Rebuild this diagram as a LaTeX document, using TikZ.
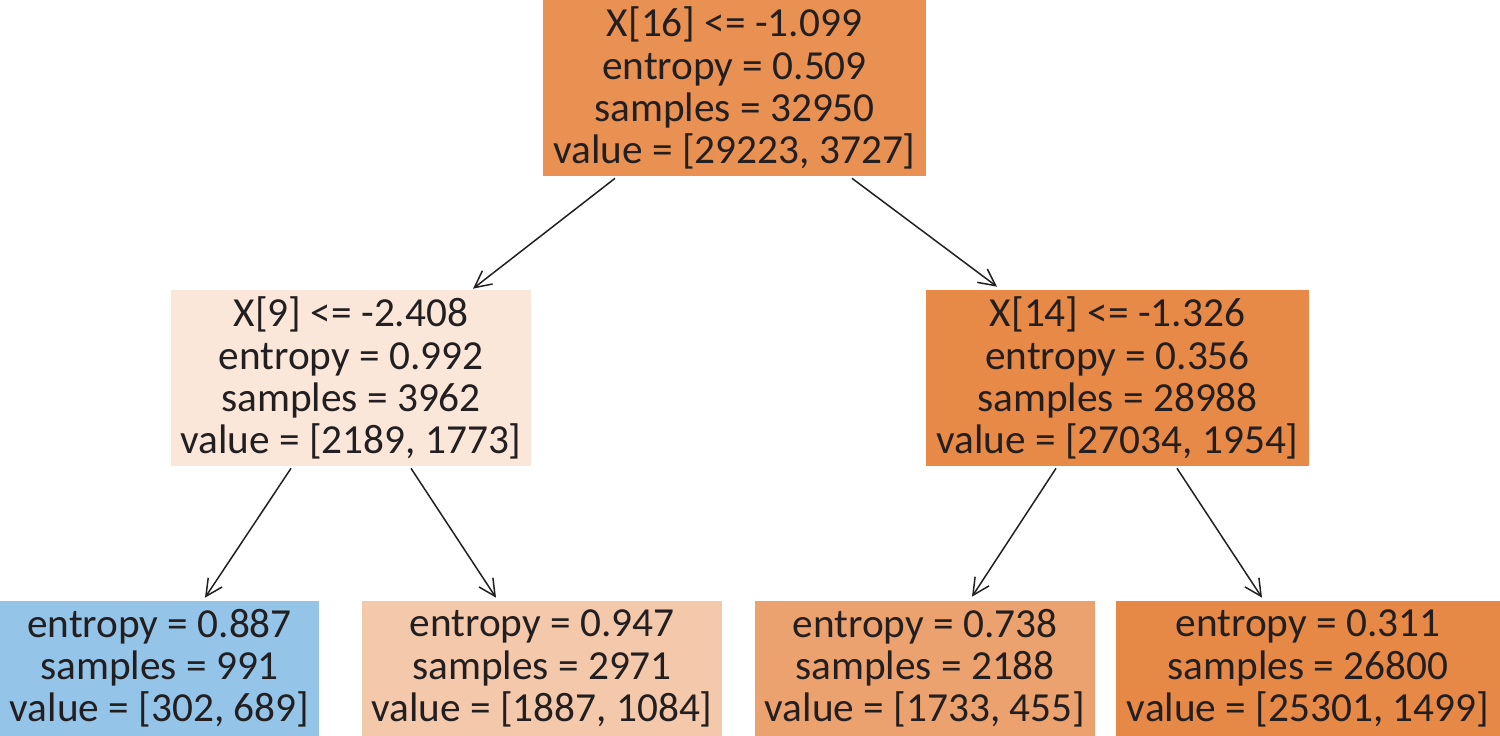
\documentclass[tikz,border=0pt]{standalone}
\usepackage{fontspec}
\setmainfont{Carlito}
\usetikzlibrary{arrows.meta,calc}
\definecolor{cRoot}{RGB}{232,145,82}
\definecolor{cML}{RGB}{250,231,217}
\definecolor{cMR}{RGB}{231,138,71}
\definecolor{cLA}{RGB}{148,196,232}
\definecolor{cLB}{RGB}{244,201,171}
\definecolor{cLC}{RGB}{235,162,110}
\definecolor{cLD}{RGB}{230,136,70}
\definecolor{txt}{RGB}{35,31,32}
\tikzset{
  treebox/.style={draw=none, inner sep=0pt, align=center, text=txt,
    font=\fontsize{23.5}{24}\selectfont, minimum height=3.52cm},
  leafbox/.style={treebox, minimum height=2.7cm},
  edge/.style={draw=txt, line width=0.85pt,
    -{Straight Barb[length=9.5pt, width=9.5pt, line width=0.85pt]}}
}
\begin{document}
\begin{tikzpicture}[x=0.02cm, y=-0.02cm]
\useasboundingbox (0,0) rectangle (1500,736);
\node[treebox, fill=cRoot, minimum width=7.66cm] (root) at (734.5,88)
  {X[16] <= -1.099\\entropy = 0.509\\samples = 32950\\value = [29223, 3727]};
\node[treebox, fill=cML, minimum width=7.2cm] (ml) at (351,378)
  {X[9] <= -2.408\\entropy = 0.992\\samples = 3962\\value = [2189, 1773]};
\node[treebox, fill=cMR, minimum width=7.66cm] (mr) at (1117.5,378)
  {X[14] <= -1.326\\entropy = 0.356\\samples = 28988\\value = [27034, 1954]};
\node[leafbox, fill=cLA, minimum width=6.38cm] (l1) at (159.5,668.5)
  {entropy = 0.887\\samples = 991\\value = [302, 689]};
\node[leafbox, fill=cLB, minimum width=7.2cm] (l2) at (542,668.5)
  {entropy = 0.947\\samples = 2971\\value = [1887, 1084]};
\node[leafbox, fill=cLC, minimum width=6.8cm] (l3) at (925,668.5)
  {entropy = 0.738\\samples = 2188\\value = [1733, 455]};
\node[leafbox, fill=cLD, minimum width=7.68cm] (l4) at (1308,668.5)
  {entropy = 0.311\\samples = 26800\\value = [25301, 1499]};
% arrow end points
\coordinate (rA) at ($(root.south)+(-119.5,2)$);
\coordinate (rB) at ($(root.south)+(117.5,2)$);
\coordinate (mlT) at ($(ml.north)+(122,-1)$);
\coordinate (mrT) at ($(mr.north)+(-120.5,-3)$);
\coordinate (mlA) at ($(ml.south)+(-60,2)$);
\coordinate (mlB) at ($(ml.south)+(60,2)$);
\coordinate (mrA) at ($(mr.south)+(-61.5,2)$);
\coordinate (mrB) at ($(mr.south)+(59.5,2)$);
\coordinate (l1T) at ($(l1.north)+(45.5,-3)$);
\coordinate (l2T) at ($(l2.north)+(-46,-3)$);
\coordinate (l3T) at ($(l3.north)+(47,-4)$);
\coordinate (l4T) at ($(l4.north)+(-46,-3)$);
\draw[edge] (rA) -- (mlT);
\draw[edge] (rB) -- (mrT);
\draw[edge] (mlA) -- (l1T);
\draw[edge] (mlB) -- (l2T);
\draw[edge] (mrA) -- (l3T);
\draw[edge] (mrB) -- (l4T);
\end{tikzpicture}
\end{document}
